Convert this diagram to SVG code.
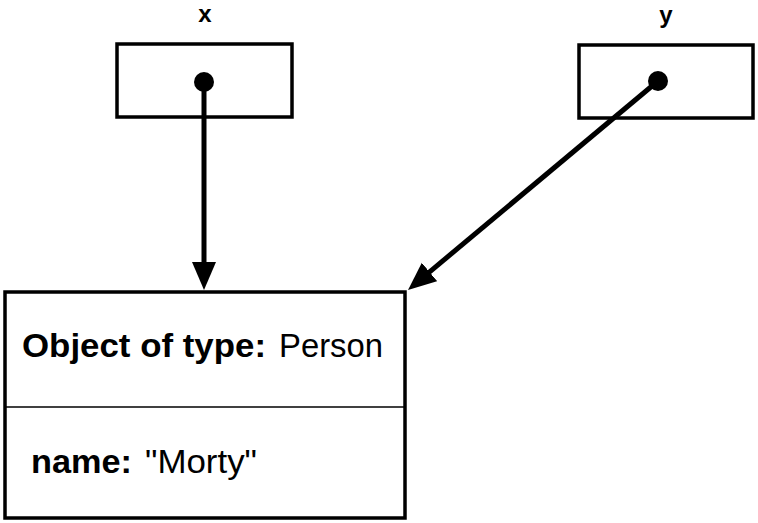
<svg xmlns="http://www.w3.org/2000/svg" width="758" height="523" viewBox="0 0 758 523">
<defs>
<style>
.box{fill:#fff;stroke:#000;stroke-width:3.5}
.div{stroke:#000;stroke-width:1.5}
.lbl{font-family:"Liberation Sans",Arial,sans-serif;font-weight:bold;font-size:24px;fill:#000;text-anchor:middle}
.txt{font-family:"Liberation Sans",Arial,sans-serif;font-size:33px;fill:#000}
.b{font-weight:bold}
.conn{stroke:#000;stroke-width:5;fill:none;marker-end:url(#ah)}
.dot{fill:#000}
</style>
<marker id="ah" markerUnits="userSpaceOnUse" markerWidth="30" markerHeight="26" refX="15" refY="12" orient="auto">
<path d="M0,0 L28,12 L0,24 z" fill="#000"/>
</marker>
</defs>
<rect width="758" height="523" fill="#fff"/>
<g id="node-x">
<text class="lbl" x="205" y="22">x</text>
<rect class="box" x="117" y="44" width="175" height="73"/>
</g>
<g id="node-y">
<text class="lbl" x="666" y="23">y</text>
<rect class="box" x="579" y="45" width="174" height="73"/>
</g>
<g id="node-person">
<rect class="box" x="5" y="292" width="400" height="226"/>
<line class="div" x1="5" y1="407" x2="405" y2="407"/>
<text class="txt b" x="22" y="357" textLength="244" lengthAdjust="spacingAndGlyphs">Object of type:</text>
<text class="txt" x="279" y="357" textLength="104" lengthAdjust="spacingAndGlyphs">Person</text>
<text class="txt b" x="31" y="473" textLength="101" lengthAdjust="spacingAndGlyphs">name:</text>
<text class="txt" x="145" y="473" textLength="112" lengthAdjust="spacingAndGlyphs">"Morty"</text>
</g>
<g id="connectors">
<line class="conn" x1="204" y1="82" x2="204" y2="277"/>
<line class="conn" x1="658" y1="81" x2="418" y2="281.6"/>
<circle class="dot" cx="204" cy="82" r="10"/>
<circle class="dot" cx="658" cy="81" r="10"/>
</g>
</svg>
